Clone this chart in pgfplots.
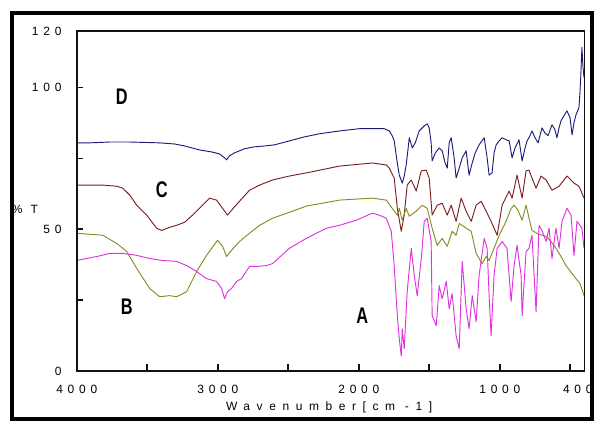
\documentclass[border=0pt]{standalone}
\usepackage{fontspec}
\setmainfont{Liberation Sans}
\newfontfamily\tickfont[LetterSpace=40]{Liberation Sans}
\newfontfamily\xlabfont[LetterSpace=55]{Liberation Sans}
\newfontfamily\lblfont[FakeStretch=0.72]{Liberation Sans}
\usepackage{pgfplots}
\pgfplotsset{compat=1.18}
\definecolor{cD}{HTML}{1C1C78}
\definecolor{cC}{HTML}{7A1E1E}
\definecolor{cB}{HTML}{8A8A22}
\definecolor{cA}{HTML}{E030E0}
\definecolor{cK}{HTML}{111111}
\tikzset{lbl/.style={font=\lblfont\bfseries\fontsize{17}{17}\selectfont},
  frm/.style={draw=cK, line width=1.3pt}}
\begin{document}
\begin{tikzpicture}
\begin{axis}[
  name=ax,
  at={(0,0)}, anchor=south west,
  scale only axis, width=381.75pt, height=255.75pt,
  x dir=reverse, xmin=400, xmax=4000, ymin=0, ymax=120,
  clip mode=individual,
  axis line style={draw=cK, line width=1.3pt},
  tick align=inside, xtick pos=left, ytick pos=left,
  major tick length=0pt,
  xtick={4000,3000,2000,1000}, xticklabels={4000,3000,2000,1000},
  extra x ticks={400}, extra x tick labels={400},
  extra x tick style={xticklabel style={xshift=-5pt}},
  ytick={0,50,100,120}, yticklabels={0,50,100,120},
  ticklabel style={font=\tickfont\fontsize{9}{9}\selectfont},
  xticklabel style={yshift=-7pt},
  yticklabel style={xshift=-8pt},
  /pgf/number format/assume math mode=true,
  every axis plot/.append style={line width=0.7pt, line join=round},
]
% D
\addplot[cD] coordinates {
(4000,80.5)(3908,80.5)(3766,80.8)(3625,80.8)(3412,80.5)(3306,80.1)(3235,79.4)
(3129,78.0)(3044,77.3)(2988,76.6)(2952,75.2)(2938,74.5)(2917,75.9)(2881,77.0)
(2811,78.4)(2740,79.1)(2669,79.4)(2598,79.8)(2492,81.2)(2386,82.6)(2280,83.7)
(2138,84.7)(1996,85.5)(1890,85.5)(1819,85.5)(1784,84.7)(1763,83.0)(1749,81.2)
(1727,73.4)(1713,69.1)(1692,66.3)(1678,68.8)(1664,72.7)(1642,82.3)(1621,78.7)
(1600,80.5)(1572,84.7)(1536,86.5)(1515,87.2)(1501,85.8)(1487,80.5)(1480,74.1)
(1458,76.9)(1430,78.7)(1409,77.7)(1388,73.4)(1373,71.6)(1359,80.5)(1345,82.3)
(1324,75.2)(1310,68.1)(1288,71.6)(1267,75.2)(1239,77.7)(1218,69.1)(1196,73.4)
(1175,76.9)(1147,79.8)(1111,82.3)(1090,75.2)(1076,69.1)(1055,69.9)(1041,76.9)
(1026,79.8)(1005,81.2)(984,82.3)(956,81.6)(934,81.2)(913,75.2)(892,78.7)
(864,81.6)(842,74.1)(821,78.7)(807,81.2)(786,83.0)(772,84.7)(750,82.3)
(729,80.5)(701,85.8)(680,84.0)(658,83.0)(630,86.9)(609,85.1)(595,82.3)
(580,85.8)(566,88.3)(545,90.1)(524,91.8)(502,89.4)(488,83.3)(474,87.6)
(460,90.4)(439,92.9)(432,98.2)(425,105.3)(418,114.2)(410,107.1)(403,103.5)
};
% C
\addplot[cC] coordinates {
(4000,65.6)(3816,65.6)(3717,65.2)(3674,64.5)(3625,62.1)(3575,58.5)(3504,55.0)
(3434,50.4)(3398,49.6)(3342,50.7)(3292,51.4)(3235,52.5)(3179,55.0)(3108,58.5)
(3058,61.0)(3009,60.3)(2966,57.4)(2931,55.0)(2903,56.7)(2846,59.9)(2775,63.8)
(2704,65.6)(2612,67.4)(2492,68.8)(2372,69.9)(2138,72.3)(1904,73.4)(1805,72.7)
(1784,71.6)(1749,68.1)(1727,57.4)(1699,49.3)(1678,55.0)(1657,65.6)(1628,67.4)
(1593,63.5)(1557,70.6)(1522,70.9)(1501,68.1)(1480,55.0)(1444,58.5)(1409,59.2)
(1373,55.0)(1345,58.5)(1310,52.8)(1274,61.0)(1239,56.4)(1203,52.8)(1168,58.5)
(1133,59.9)(1097,56.4)(1062,52.8)(1041,50.4)(1019,47.9)(984,58.5)(934,63.5)
(913,61.0)(878,69.1)(842,61.0)(814,70.6)(793,70.9)(772,68.1)(743,64.5)
(708,68.8)(672,67.4)(630,63.8)(580,65.2)(524,68.8)(474,66.3)(439,65.2)
(418,62.8)(403,61.0)
};
% B
\addplot[cB] coordinates {
(4000,48.6)(3816,47.9)(3717,45.0)(3646,42.2)(3575,36.2)(3483,29.1)(3412,26.2)
(3342,26.6)(3292,26.2)(3221,28.0)(3150,35.1)(3080,40.8)(3002,46.1)(2966,44.0)
(2938,40.4)(2903,42.6)(2846,45.7)(2775,48.6)(2704,51.4)(2612,53.9)(2492,56.0)
(2372,58.2)(2258,59.2)(2138,60.3)(1904,61.0)(1805,60.3)(1763,57.4)(1727,55.0)
(1713,57.4)(1692,53.2)(1664,57.4)(1642,54.6)(1593,56.4)(1550,58.5)(1515,57.4)
(1480,50.4)(1444,44.3)(1409,46.8)(1373,44.0)(1338,49.3)(1310,47.9)(1288,52.1)
(1239,50.4)(1203,49.3)(1168,41.5)(1126,37.9)(1097,40.4)(1076,39.0)(1041,43.3)
(1005,47.9)(956,52.8)(920,57.4)(899,58.5)(871,56.7)(842,53.2)(814,58.5)
(793,53.9)(772,49.6)(722,48.2)(672,47.5)(637,45.7)(602,43.3)(566,40.4)
(531,37.2)(488,34.4)(460,32.6)(432,30.9)(403,26.6)
};
% A
\addplot[cA] coordinates {
(4000,39.0)(3858,40.4)(3766,41.5)(3674,41.5)(3575,40.8)(3483,39.7)(3391,39.0)
(3292,38.7)(3221,37.2)(3150,35.1)(3080,32.6)(3009,31.6)(2973,29.1)(2952,25.5)
(2931,28.0)(2903,29.1)(2867,31.6)(2832,32.6)(2775,36.9)(2726,36.9)(2655,37.2)
(2612,37.9)(2492,43.3)(2372,46.8)(2230,50.4)(2138,51.4)(2018,53.2)(1904,55.7)
(1855,55.0)(1805,53.9)(1770,49.3)(1749,37.2)(1727,19.5)(1713,11.3)(1699,5.3)
(1692,14.9)(1678,7.8)(1657,28.0)(1628,43.3)(1607,33.7)(1586,26.6)(1557,39.7)
(1536,52.8)(1515,53.9)(1487,45.7)(1480,19.5)(1451,16.0)(1430,30.1)(1409,25.5)
(1380,31.6)(1359,22.0)(1338,27.3)(1310,12.4)(1288,7.8)(1267,38.7)(1239,22.0)
(1218,14.9)(1196,26.6)(1168,17.4)(1147,33.7)(1111,46.8)(1090,43.3)(1076,26.6)
(1062,12.4)(1041,33.7)(1019,43.3)(984,45.7)(949,43.3)(920,24.5)(899,37.2)
(878,44.3)(849,33.7)(842,19.5)(814,42.2)(793,43.3)(772,47.9)(743,20.9)
(722,51.4)(701,49.6)(672,45.7)(651,50.4)(630,39.7)(602,50.4)(580,43.3)
(559,52.8)(524,57.4)(495,55.0)(474,40.8)(453,52.8)(418,50.4)(403,43.3)
};
% tick positions, used after the axis
\pgfplotsinvokeforeach{3500,3000,2500,2000,1500,1000,500}{
  \coordinate (xt#1) at (axis cs:#1,0);}
\pgfplotsinvokeforeach{25,50,75,100}{
  \coordinate (yt#1) at (axis cs:4000,#1);}
\node[lbl] at (axis cs:3681,96.8) {D};
\node[lbl] at (axis cs:3398,63.8) {C};
\node[lbl] at (axis cs:3646,22.7) {B};
\node[lbl] at (axis cs:1975,19.5) {A};
\node[font=\tickfont\fontsize{9}{9}\selectfont] at (axis description cs:-0.102,0.475) {\% T};
\node[font=\xlabfont\fontsize{9}{9}\selectfont] at (axis description cs:0.497,-0.106) {Wavenumber[cm -1]};
\end{axis}
% axis box and ticks
\draw[frm] (ax.south west) rectangle (ax.north east);
\foreach \t in {3500,3000,2500,2000,1500,1000,500}{
  \draw[frm] (xt\t) -- ++(0pt,5pt);}
\foreach \t in {25,50,75,100}{
  \draw[frm] (yt\t) -- ++(5pt,0pt);}
\draw[line width=3pt] (-48.75pt,-36pt) rectangle (387.75pt,269.25pt);
\path[use as bounding box] (-57.75pt,-39pt) rectangle (390pt,279pt);
\end{tikzpicture}
\end{document}
